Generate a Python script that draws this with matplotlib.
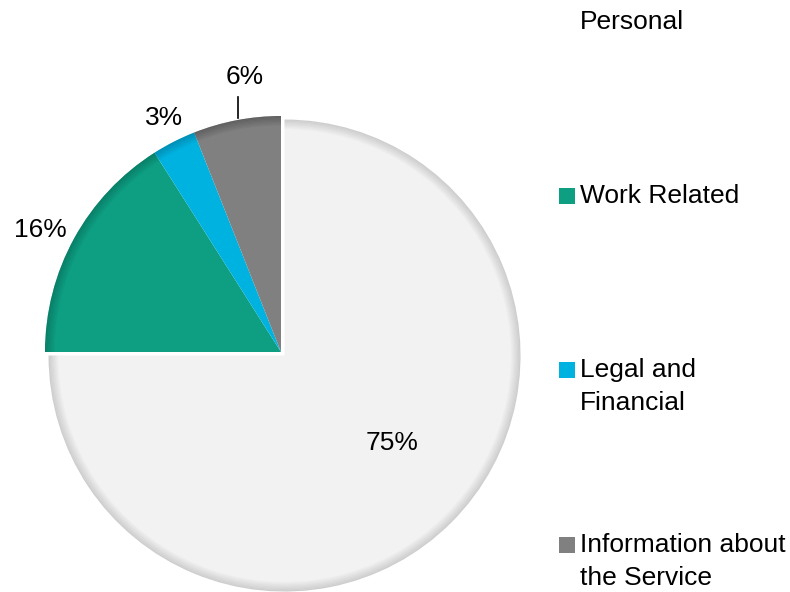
import numpy as np
import matplotlib.pyplot as plt
from matplotlib.patches import Wedge, Rectangle

plt.rcParams['font.family'] = ['Liberation Sans', 'DejaVu Sans']

categories = ["Personal", "Work Related", "Legal and\nFinancial", "Information about\nthe Service"]
shares = [75, 16, 3, 6]
colors = ["#f2f2f2", "#0e9e82", "#00b2e0", "#808080"]
rim_colors = ["#8a8a8a", "#05604e", "#006c8a", "#404040"]
legend_colors = ["#ffffff", "#0e9e82", "#00b2e0", "#808080"]

W, H = 790, 592
fig = plt.figure(figsize=(W / 100, H / 100), dpi=100)
ax = fig.add_axes([0, 0, 1, 1])

cx, cy, r = 281, H - 352, 236

wedges, _ = ax.pie(shares, colors=colors, startangle=90, counterclock=False,
                   radius=r, center=(cx, cy), explode=[5, 0, 0, 0],
                   wedgeprops=dict(linewidth=0))

# bevel-ish rim shading on every wedge
for i, (w, rc) in enumerate(zip(wedges, rim_colors)):
    c = w.center
    strength = 0.35 if i == 0 else 0.5
    for k in range(8):
        ax.add_patch(Wedge(c, w.r - k * 1.2, w.theta1, w.theta2, width=1.2,
                           facecolor=rc, edgecolor="none", alpha=strength * (1 - k / 8)))

ax.set_xlim(0, W)
ax.set_ylim(0, H)
ax.set_aspect("equal")
ax.axis("off")

# percentage labels
label_pos = [(392, 443), (40, 230), (164, 118), (245, 77)]
for (x, y), v in zip(label_pos, shares):
    ax.text(x, H - y, f"{v}%", fontsize=19, ha="center", va="center", color="#000000")
ax.plot([238, 238], [H - 97, H - 118], color="black", lw=1.2)

# legend
leg_y = [22, 196, 370, 545]
line_gap = 33
for y, lab, c in zip(leg_y, categories, legend_colors):
    ax.add_patch(Rectangle((559, H - y - 8), 16, 16, facecolor=c, edgecolor="none"))
    for j, part in enumerate(lab.split("\n")):
        ax.text(580, H - y - j * line_gap, part, fontsize=19, ha="left",
                va="center", color="#000000")

fig.savefig("out.png", dpi=100)
